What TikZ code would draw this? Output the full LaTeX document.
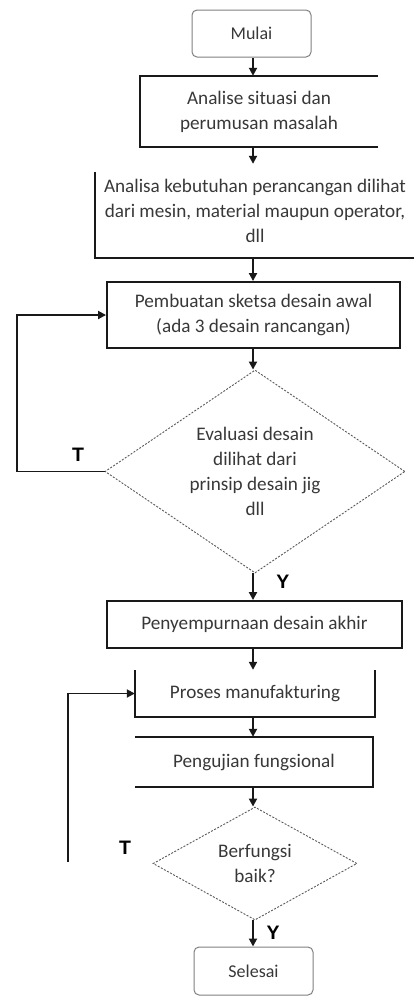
\documentclass[tikz,border=0pt]{standalone}
\usepackage{fontspec}
\setmainfont{Carlito}
\newfontfamily\yesnofont{Liberation Sans}
\usetikzlibrary{shapes.geometric,arrows.meta,calc}

\begin{document}
\begin{tikzpicture}[x=1pt,y=-1pt,
  every node/.style={font=\fontsize{19.2}{25}\selectfont, text=black!78, align=center, inner sep=0pt},
  edge/.style={line width=1.9pt, draw=black!90},
  arr/.style={edge, -{Triangle[length=8pt,width=8pt]}},
  terminal/.style={rectangle, rounded corners=5pt, draw=black!50, line width=1pt, font=\fontsize{18}{22}\selectfont},
  decision/.style={diamond, aspect=1.48, draw=black!65, line width=0.9pt, dash pattern=on 2pt off 1.5pt},
  yn/.style={font=\yesnofont\bfseries\fontsize{19.5}{20}\selectfont, text=black}]

\useasboundingbox (0,0) rectangle (414,996);
\coordinate (spine) at (253,0);

% steps of the flow
\node[terminal, minimum width=119pt, minimum height=47pt] (mulai) at (251.5,33.5) {Mulai};
\node[minimum width=238pt, minimum height=71pt] (analise) at (259,111.5)
  {Analise situasi dan\\perumusan masalah};
\node[minimum width=320pt, minimum height=94pt] (analisa) at (255,211)
  {Analisa kebutuhan perancangan dilihat\\dari mesin, material maupun operator,\\dll};
\node[draw=black!90, line width=1.9pt, minimum width=293pt, minimum height=66pt] (sketsa) at (253.5,315)
  {Pembuatan sketsa desain awal\\(ada 3 desain rancangan)};
\node[decision, minimum width=300pt, minimum height=203pt] (evaluasi) at (255,471.5)
  {Evaluasi desain\\dilihat dari\\prinsip desain jig\\dll};
\node[draw=black!90, line width=1.9pt, minimum width=295pt, minimum height=47pt] (akhir) at (254.5,624.5)
  {Penyempurnaan desain akhir};
\node[minimum width=240pt, minimum height=47pt] (proses) at (255,693.5) {Proses manufakturing};
\node[minimum width=238pt, minimum height=50pt] (uji) at (254,762) {Pengujian fungsional};
\node[decision, minimum width=204pt, minimum height=113pt] (fungsi) at (255,863.5) {Berfungsi\\baik?};
\node[terminal, minimum width=119pt, minimum height=48pt] (selesai) at (253.5,971) {Selesai};

% box outlines as they are printed
\draw[edge] (analise.south east) -- (analise.south west) -- (analise.north west) -- (analise.north east);
\draw[edge] ($(analisa.north west)+(0,8)$) -- (analisa.south west) -- (analisa.south east);
\draw[edge] (proses.north west) -- (proses.south west) -- (proses.south east) -- (proses.north east);
\draw[edge] (uji.north west) -- (uji.north east) -- (uji.south east) -- (uji.south west);

% main flow
\draw[arr] (mulai.south -| spine) -- (analise.north -| spine);
\draw[arr] (analise.south -| spine) -- (analisa.north -| spine);
\draw[arr] (analisa.south -| spine) -- (sketsa.north -| spine);
\draw[arr] (sketsa.south -| spine) -- (evaluasi.north -| spine);
\draw[arr] (evaluasi.south -| spine) -- (akhir.north -| spine);
\draw[arr] (akhir.south -| spine) -- (proses.north -| spine);
\draw[arr] (proses.south -| spine) -- (uji.north -| spine);
\draw[arr] (uji.south -| spine) -- (fungsi.north -| spine);
\draw[arr] (fungsi.south -| spine) -- (selesai.north -| spine);

% return loops
\draw[arr] (evaluasi.west) -- ++(-88,0) |- (sketsa.west);
\coordinate (ulang) at (68,862);
\draw[arr] (ulang) |- (proses.west);

% decision labels
\node[yn] (t1) at (78,455) {T};
\node[yn] (y1) at (283,582) {Y};
\node[yn] (t2) at (125,848) {T};
\node[yn] (y2) at (273,933) {Y};
\end{tikzpicture}
\end{document}
